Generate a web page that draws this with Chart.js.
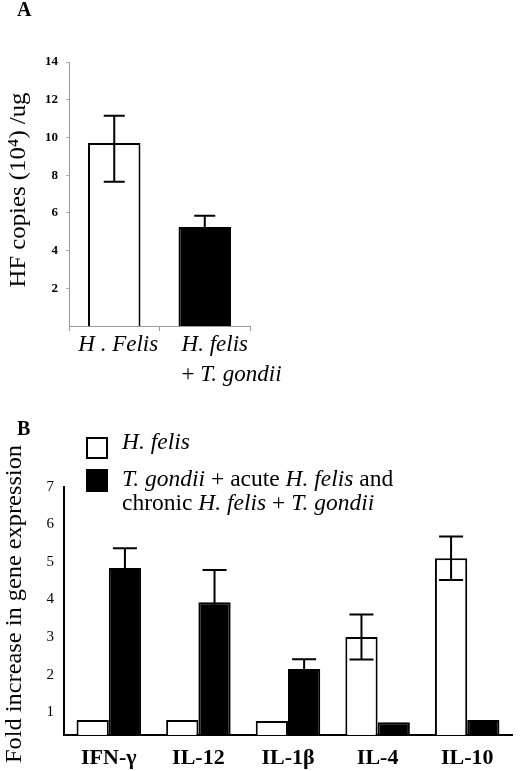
<!DOCTYPE html>
<html>
<head>
<meta charset="utf-8">
<script src="https://cdn.jsdelivr.net/npm/chart.js@4.4.1/dist/chart.umd.min.js"></script>
<style>
  body { margin: 0; background: #fff; }
  #wrap { position: relative; width: 520px; height: 771px; }
  canvas { position: absolute; left: 0; }
</style>
</head>
<body>
<div id="wrap">
  <canvas id="chartA" width="520" height="390" style="top:0"></canvas>
  <canvas id="chartB" width="520" height="381" style="top:390px"></canvas>
</div>
<script>
// PANEL A data
var groupsA = ['H . Felis', 'H. felis + T. gondii'];
var copiesA = [9.7, 5.25];
var errUpA = [1.45, 0.6];
var errDownA = [2.05, 0.6];
var ticksA = [2, 4, 6, 8, 10, 12, 14];

// PANEL B data
var genesB = ['IFN-γ', 'IL-12', 'IL-1β', 'IL-4', 'IL-10'];
var hFelisB = [0.79, 0.79, 0.76, 3.0, 5.1];
var coInfB = [4.84, 3.93, 2.15, 0.73, 0.79];
var hFelisErrB = [0, 0, 0, 0.6, 0.58];
var coInfErrB = [0.53, 0.86, 0.26, 0, 0];
var ticksB = [1, 2, 3, 4, 5, 6, 7];

var SERIF = '"Liberation Serif", "Times New Roman", serif';

// draw a line of text made of normal / italic pieces
function drawRuns(ctx, runs, x, y, size, align) {
    var total = 0;
    runs.forEach(function (r) {
        ctx.font = (r[1] ? 'italic ' : '') + size + 'px ' + SERIF;
        total += ctx.measureText(r[0]).width;
    });
    var cx = align === 'center' ? x - total / 2 : x;
    ctx.textAlign = 'left';
    ctx.textBaseline = 'middle';
    ctx.fillStyle = '#000';
    runs.forEach(function (r) {
        ctx.font = (r[1] ? 'italic ' : '') + size + 'px ' + SERIF;
        ctx.fillText(r[0], cx, y);
        cx += ctx.measureText(r[0]).width;
    });
    return total;
}

// rotated axis title, stretched to the length it has in the figure
function drawVertical(ctx, text, x, y, size, length) {
    ctx.save();
    ctx.translate(x, y);
    ctx.rotate(-Math.PI / 2);
    ctx.font = size + 'px ' + SERIF;
    var w = ctx.measureText(text).width;
    ctx.scale(length / w, 1);
    ctx.fillStyle = '#000';
    ctx.textAlign = 'center';
    ctx.textBaseline = 'middle';
    ctx.fillText(text, 0, 0);
    ctx.restore();
}

// error bars, read from errUp / errDown on each dataset
var errorBars = {
    id: 'errorBars',
    afterDatasetsDraw: function (chart, args, opts) {
        var ctx = chart.ctx;
        var y = chart.scales.y;
        chart.data.datasets.forEach(function (ds, d) {
            var meta = chart.getDatasetMeta(d);
            meta.data.forEach(function (bar, i) {
                var up = ds.errUp[i], down = ds.errDown[i];
                if (!up && !down) return;
                var v = ds.data[i];
                var top = y.getPixelForValue(v + up);
                var bot = y.getPixelForValue(v - down);
                var cap = opts.cap;
                ctx.save();
                ctx.strokeStyle = '#000';
                ctx.lineWidth = 2;
                ctx.beginPath();
                ctx.moveTo(bar.x, top); ctx.lineTo(bar.x, bot);
                ctx.moveTo(bar.x - cap, top); ctx.lineTo(bar.x + cap, top);
                ctx.moveTo(bar.x - cap, bot); ctx.lineTo(bar.x + cap, bot);
                ctx.stroke();
                ctx.restore();
            });
        });
    }
};

// PANEL A
var decoA = {
    id: 'decoA',
    afterDraw: function (chart) {
        var ctx = chart.ctx;
        var x = chart.scales.x;
        ctx.save();
        ctx.font = 'bold 20px ' + SERIF;
        ctx.fillStyle = '#000';
        ctx.textBaseline = 'middle';
        ctx.fillText('A', 17, 11);
        ctx.restore();
        drawVertical(ctx, 'HF copies (10⁴) /ug', 19, 190, 24, 195);
        var c0 = x.getPixelForValue(0);
        var c1 = x.getPixelForValue(1);
        drawRuns(ctx, [['H . Felis', true]], c0 + 4, 345, 23, 'center');
        ctx.font = 'italic 23px ' + SERIF;
        var start = c1 + 10 - ctx.measureText('H. felis').width / 2;
        drawRuns(ctx, [['H. felis', true]], start, 345, 23, 'left');
        drawRuns(ctx, [['+ ', false], ['T. gondii', true]], start, 375, 23, 'left');
    }
};

new Chart(document.getElementById('chartA'), {
    type: 'bar',
    data: {
        labels: groupsA,
        datasets: [{
            data: copiesA,
            errUp: errUpA,
            errDown: errDownA,
            backgroundColor: ['#ffffff', '#000000'],
            borderColor: '#000',
            borderWidth: 2,
            categoryPercentage: 1,
            barPercentage: 0.58
        }]
    },
    options: {
        responsive: false,
        animation: false,
        layout: { padding: { top: 62, right: 270, left: 0, bottom: 0 } },
        plugins: {
            legend: { display: false },
            tooltip: { enabled: false },
            errorBars: { cap: 10.5 }
        },
        scales: {
            x: {
                ticks: { display: false },
                grid: { display: true, drawOnChartArea: false, drawTicks: true, tickLength: 5, color: '#999' },
                border: { display: true, color: '#999', width: 1 },
                afterFit: function (s) { s.height = 64; }
            },
            y: {
                min: 0,
                max: 14,
                afterBuildTicks: function (s) { s.ticks = ticksA.map(function (v) { return { value: v }; }); },
                ticks: { color: '#000', padding: 8, font: { family: SERIF, size: 13, weight: 'bold' } },
                grid: { display: true, drawOnChartArea: false, drawTicks: true, tickLength: 3, color: '#aaa' },
                border: { display: true, color: '#999', width: 1 },
                afterFit: function (s) { s.width = 69; }
            }
        }
    },
    plugins: [errorBars, decoA]
});

// PANEL B
var decoB = {
    id: 'decoB',
    afterDraw: function (chart) {
        var ctx = chart.ctx;
        ctx.save();
        ctx.font = 'bold 20px ' + SERIF;
        ctx.fillStyle = '#000';
        ctx.textBaseline = 'middle';
        ctx.fillText('B', 17, 40);
        // legend boxes
        ctx.lineWidth = 2;
        ctx.strokeStyle = '#000';
        ctx.fillStyle = '#fff';
        ctx.fillRect(87, 48, 20, 20);
        ctx.strokeRect(87, 48, 20, 20);
        ctx.fillStyle = '#000';
        ctx.fillRect(86, 79, 22, 23);
        ctx.restore();
        drawRuns(ctx, [['H. felis', true]], 122, 53, 23.5, 'left');
        drawRuns(ctx, [['T. gondii', true], [' + acute ', false], ['H. felis', true], [' and', false]], 122, 90, 23.5, 'left');
        drawRuns(ctx, [['chronic ', false], ['H. felis', true], [' + ', false], ['T. gondii', true]], 122, 114, 23.5, 'left');
        drawVertical(ctx, 'Fold increase in gene expression', 15, 214, 24, 318);
    }
};

new Chart(document.getElementById('chartB'), {
    type: 'bar',
    data: {
        labels: genesB,
        datasets: [{
            label: 'H. felis',
            data: hFelisB,
            errUp: hFelisErrB,
            errDown: hFelisErrB,
            backgroundColor: '#fff',
            borderColor: '#000',
            borderWidth: 2
        }, {
            label: 'T. gondii + acute H. felis and chronic H. felis + T. gondii',
            data: coInfB,
            errUp: coInfErrB,
            errDown: coInfErrB,
            backgroundColor: '#000',
            borderColor: '#000',
            borderWidth: 2
        }]
    },
    options: {
        responsive: false,
        animation: false,
        datasets: { bar: { categoryPercentage: 0.72, barPercentage: 1 } },
        layout: { padding: { top: 97, right: 8, left: 0, bottom: 0 } },
        plugins: {
            legend: { display: false },
            tooltip: { enabled: false },
            errorBars: { cap: 12 }
        },
        scales: {
            x: {
                ticks: { color: '#000', padding: 10, font: { family: SERIF, size: 22, weight: 'bold' } },
                grid: { display: false, drawTicks: false },
                border: { display: true, color: '#000', width: 2 },
                afterFit: function (s) { s.height = 36; }
            },
            y: {
                min: 0.39,
                max: 7,
                afterBuildTicks: function (s) { s.ticks = ticksB.map(function (v) { return { value: v }; }); },
                ticks: { color: '#000', padding: 10, font: { family: SERIF, size: 15 } },
                grid: { display: false, drawTicks: false },
                border: { display: true, color: '#000', width: 2 },
                afterFit: function (s) { s.width = 64; }
            }
        }
    },
    plugins: [errorBars, decoB]
});
</script>
</body>
</html>
